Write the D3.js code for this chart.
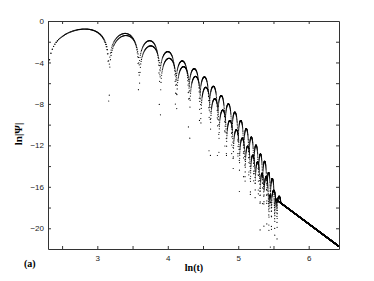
<!DOCTYPE html>
<html><head><meta charset="utf-8">
<script src="https://cdn.jsdelivr.net/npm/d3@7"></script>
<style>body{margin:0;background:#fff} svg{display:block}</style>
</head><body><svg id="c" width="374" height="281"></svg>
<script>
// ---- data ----
const xDomain = [2.3, 6.43];
const yDomain = [-22, 0];
const xTickValues = [2.5, 3, 3.5, 4, 4.5, 5, 5.5, 6];
const xTickLabels = ["", "3", "", "4", "", "5", "", "6"];
const yTickValues = [0, -2, -4, -6, -8, -10, -12, -14, -16, -18, -20];
const yTickLabels = ["0", "", "−4", "", "−8", "", "−12", "", "−16", "", "−20"];
// series 1 (upper arches): lobe boundaries (ln t) and lobe peak heights (ln|Ψ|)
const upperZeros = [2.300, 3.161, 3.584, 3.879, 4.108, 4.293, 4.450, 4.585, 4.704, 4.810, 4.907, 4.995, 5.075, 5.150, 5.219, 5.284, 5.345, 5.403, 5.457, 5.509, 5.558, 5.605];
const upperPeaks = [-0.77, -1.2, -1.9, -2.95, -3.85, -4.6, -5.4, -6.3, -7.2, -8.0, -8.8, -9.6, -10.4, -11.2, -12.0, -12.8, -13.6, -14.5, -15.4, -16.5, -17.8];
// series 2 (lower arches)
const lowerZeros = [2.300, 3.170, 3.597, 3.896, 4.126, 4.312, 4.469, 4.605, 4.725, 4.832, 4.928, 5.016, 5.097, 5.171, 5.241, 5.306, 5.367, 5.425, 5.479, 5.531];
const lowerPeaks = [-0.78, -1.4, -2.4, -3.6, -4.4, -5.35, -6.4, -7.5, -8.6, -9.6, -10.5, -11.3, -12.1, -12.9, -13.7, -14.5, -15.3, -16.1, -17.0];
// late-time straight tail
const tailLnT = [5.0, 6.43];
const tailVal = [-14.5, -21.75];
const tailFade = [5.0, 5.3];
const sampleStep = 0.2; // time step of the samples (t units)
const tRange = [10, 620];

// ---- layout ----
const svg = d3.select("#c");
const m = {l: 48, r: 35, t: 21, b: 32};
const W = 374, H = 281;
const x = d3.scaleLinear().domain(xDomain).range([m.l, W - m.r]);
const y = d3.scaleLinear().domain(yDomain).range([H - m.b, m.t]);

const tailScale = d3.scaleLinear().domain(tailLnT).range(tailVal);
const fade = d3.scaleLinear().domain(tailFade).range([0, 1]).clamp(true);

function seriesPoints(zeros, peaks) {
  const tz = zeros.map(Math.exp);
  const pts = [];
  const n = Math.round((tRange[1] - tRange[0]) / sampleStep);
  for (let k = 0; k <= n; k++) {
    const t = tRange[0] + k * sampleStep;
    const lt = Math.log(t);
    let osc = 0;
    const i = d3.bisectRight(tz, t) - 1;
    if (i >= 0 && i < peaks.length) {
      const s = Math.sin(Math.PI * (t - tz[i]) / (tz[i + 1] - tz[i]));
      osc = (i % 2 ? -1 : 1) * Math.exp(peaks[i]) * s;
    }
    const tail = Math.exp(tailScale(lt)) * fade(lt);
    const v = Math.abs(osc + tail);
    if (v <= 0) continue;
    const lv = Math.log(v);
    if (lv < yDomain[0] || lv > yDomain[1] || lt < xDomain[0]) continue;
    pts.push([lt, lv]);
  }
  return pts;
}

const clip = svg.append("clipPath").attr("id", "cp").append("rect")
  .attr("x", m.l).attr("y", m.t).attr("width", W - m.l - m.r).attr("height", H - m.t - m.b);

const g = svg.append("g").attr("clip-path", "url(#cp)");
[seriesPoints(upperZeros, upperPeaks), seriesPoints(lowerZeros, lowerPeaks)].forEach(pts => {
  g.selectAll(null).data(pts).enter().append("circle")
    .attr("cx", d => x(d[0])).attr("cy", d => y(d[1])).attr("r", 0.6).attr("fill", "#000");
});

// ---- axes ----
const axColor = "#333";
function styleAxis(sel) {
  sel.select(".domain").attr("stroke", axColor).attr("stroke-width", 1);
  sel.selectAll(".tick line").attr("stroke", axColor);
  sel.selectAll(".tick text").attr("fill", "#222").attr("font-family", "'Liberation Sans', Arial, sans-serif").attr("font-size", 8);
}
svg.append("g").attr("transform", `translate(0,${H - m.b})`)
  .call(d3.axisBottom(x).tickValues(xTickValues).tickFormat((d, i) => xTickLabels[i]).tickSizeInner(-3).tickSizeOuter(0).tickPadding(6))
  .call(styleAxis);
svg.append("g").attr("transform", `translate(0,${m.t})`)
  .call(d3.axisTop(x).tickValues(xTickValues).tickFormat("").tickSizeInner(-3).tickSizeOuter(0))
  .call(styleAxis);
svg.append("g").attr("transform", `translate(${m.l},0)`)
  .call(d3.axisLeft(y).tickValues(yTickValues).tickFormat((d, i) => yTickLabels[i]).tickSizeInner(-3).tickSizeOuter(0).tickPadding(4))
  .call(styleAxis);
svg.append("g").attr("transform", `translate(${W - m.r},0)`)
  .call(d3.axisRight(y).tickValues(yTickValues).tickFormat("").tickSizeInner(-3).tickSizeOuter(0))
  .call(styleAxis);

// ---- labels ----
const serif = "'Liberation Serif', 'Times New Roman', serif";
svg.append("text").attr("x", 194).attr("y", 271).attr("text-anchor", "middle")
  .attr("font-family", serif).attr("font-weight", "bold").attr("font-size", 10).text("ln(t)");
svg.append("text").attr("transform", "translate(22,134) rotate(-90)").attr("text-anchor", "middle")
  .attr("font-family", serif).attr("font-weight", "bold").attr("font-size", 11).text("ln|Ψ|");
svg.append("text").attr("x", 24).attr("y", 267)
  .attr("font-family", serif).attr("font-weight", "bold").attr("font-size", 10).text("(a)");
</script></body></html>
